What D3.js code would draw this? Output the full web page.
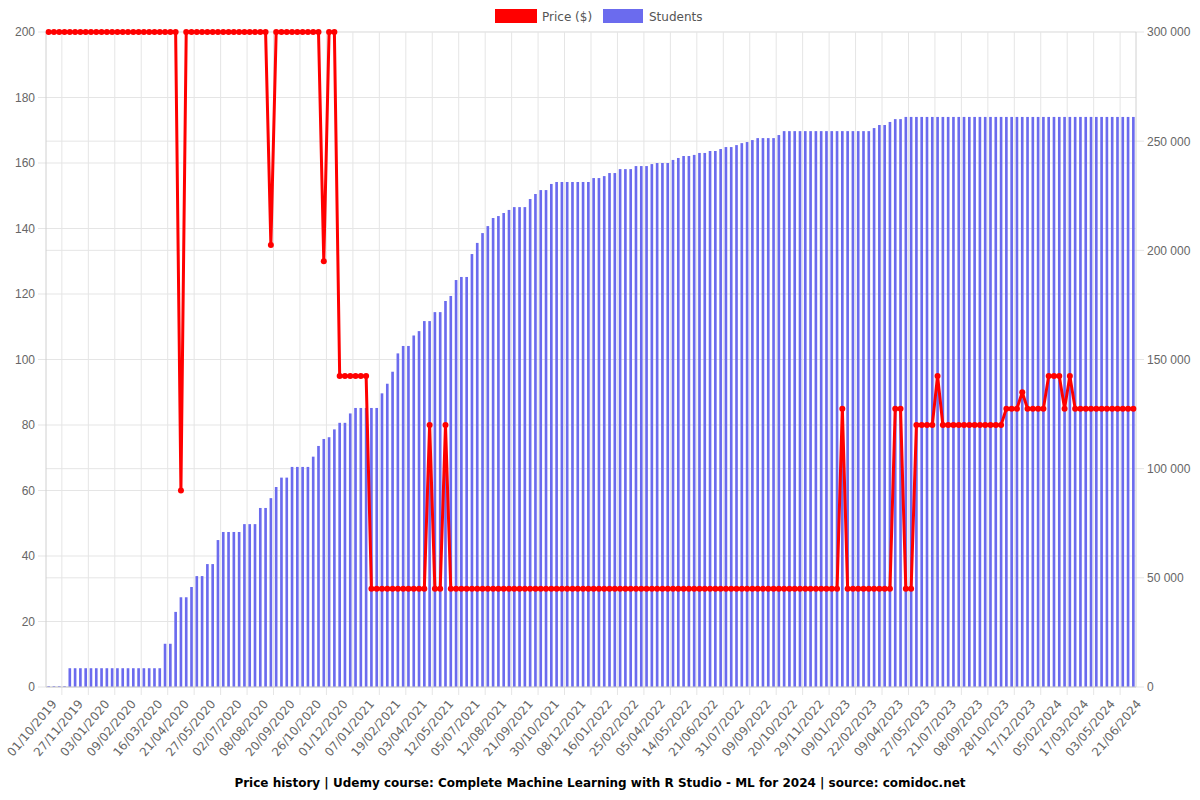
<!DOCTYPE html>
<html lang="en">
<head>
<meta charset="UTF-8">
<title>Price history</title>
<style>
  body { margin: 0; background: #fff; }
  svg { font-family: "DejaVu Sans", sans-serif; }
</style>
</head>
<body>
<div id="chart"></div>
<script src="https://d3js.org/d3.v7.min.js"></script>
<script>
// visible tick labels, one every 5 categories
const tickLabels = [
  "01/10/2019", "27/11/2019", "03/01/2020", "09/02/2020", "16/03/2020", "21/04/2020",
  "27/05/2020", "02/07/2020", "08/08/2020", "20/09/2020", "26/10/2020", "01/12/2020",
  "07/01/2021", "19/02/2021", "03/04/2021", "12/05/2021", "05/07/2021", "12/08/2021",
  "21/09/2021", "30/10/2021", "08/12/2021", "16/01/2022", "25/02/2022", "05/04/2022",
  "14/05/2022", "21/06/2022", "31/07/2022", "09/09/2022", "20/10/2022", "29/11/2022",
  "09/01/2023", "22/02/2023", "09/04/2023", "27/05/2023", "21/07/2023", "08/09/2023",
  "28/10/2023", "17/12/2023", "05/02/2024", "17/03/2024", "03/05/2024", "21/06/2024"
];
const labelEvery = 5;

const prices = [
  200, 200, 200, 200, 200, 200, 200, 200, 200, 200,
  200, 200, 200, 200, 200, 200, 200, 200, 200, 200,
  200, 200, 200, 200, 200, 60, 200, 200, 200, 200,
  200, 200, 200, 200, 200, 200, 200, 200, 200, 200,
  200, 200, 135, 200, 200, 200, 200, 200, 200, 200,
  200, 200, 130, 200, 200, 95, 95, 95, 95, 95,
  95, 30, 30, 30, 30, 30, 30, 30, 30, 30,
  30, 30, 80, 30, 30, 80, 30, 30, 30, 30,
  30, 30, 30, 30, 30, 30, 30, 30, 30, 30,
  30, 30, 30, 30, 30, 30, 30, 30, 30, 30,
  30, 30, 30, 30, 30, 30, 30, 30, 30, 30,
  30, 30, 30, 30, 30, 30, 30, 30, 30, 30,
  30, 30, 30, 30, 30, 30, 30, 30, 30, 30,
  30, 30, 30, 30, 30, 30, 30, 30, 30, 30,
  30, 30, 30, 30, 30, 30, 30, 30, 30, 30,
  85, 30, 30, 30, 30, 30, 30, 30, 30, 30,
  85, 85, 30, 30, 80, 80, 80, 80, 95, 80,
  80, 80, 80, 80, 80, 80, 80, 80, 80, 80,
  80, 85, 85, 85, 90, 85, 85, 85, 85, 95,
  95, 95, 85, 95, 85, 85, 85, 85, 85, 85,
  85, 85, 85, 85, 85, 85
];

const students = [
  400, 400, 400, 400, 8600, 8600, 8600, 8600, 8600, 8600,
  8600, 8600, 8600, 8600, 8600, 8600, 8600, 8600, 8600, 8600,
  8600, 8600, 19800, 19800, 34400, 41100, 41100, 45800, 50800, 50800,
  56300, 56300, 67300, 71000, 71000, 71000, 71000, 74600, 74600, 74600,
  82000, 82000, 86500, 91600, 95900, 95900, 100800, 100800, 100800, 100800,
  105500, 110400, 113600, 114400, 118000, 121000, 121000, 125300, 127800, 127800,
  127800, 127800, 127800, 134500, 138900, 144400, 152800, 156200, 156200, 161000,
  163000, 167600, 167600, 171700, 171700, 176800, 179100, 186400, 187800, 187800,
  198300, 203400, 207900, 211100, 214800, 215700, 217100, 218500, 219800, 219800,
  219800, 223500, 225800, 227600, 227600, 230400, 231300, 231300, 231300, 231300,
  231300, 231300, 231300, 233100, 233100, 234000, 235400, 235400, 237200, 237200,
  237200, 238600, 238600, 238600, 239500, 240000, 240000, 240000, 241400, 242300,
  243200, 243200, 243700, 244600, 244600, 245500, 245500, 246400, 247300, 247300,
  248200, 249100, 249600, 250500, 251400, 251400, 251400, 251400, 252800, 254600,
  254600, 254600, 254600, 254600, 254600, 254600, 254600, 254600, 254600, 254600,
  254600, 254600, 254600, 254600, 254600, 254600, 256000, 257400, 257400, 258800,
  260100, 260100, 261100, 261100, 261100, 261100, 261100, 261100, 261100, 261100,
  261100, 261100, 261100, 261100, 261100, 261100, 261100, 261100, 261100, 261100,
  261100, 261100, 261100, 261100, 261100, 261100, 261100, 261100, 261100, 261100,
  261100, 261100, 261100, 261100, 261100, 261100, 261100, 261100, 261100, 261100,
  261100, 261100, 261100, 261100, 261100, 261100
];

const priceTicks = [0, 20, 40, 60, 80, 100, 120, 140, 160, 180, 200];
const studentTicks = [0, 50000, 100000, 150000, 200000, 250000, 300000];

const W = 1200, H = 800;
const plotL = 46, plotR = 1136, plotT = 32, plotB = 687;
const gridColor = "#e5e5e5";
const textColor = "#666";
const blue = "#6b6bee";
const red = "#ff0000";

const svg = d3.select("#chart").append("svg")
  .attr("width", W)
  .attr("height", H);

const idx = d3.range(prices.length);
const x = d3.scaleBand().domain(idx).range([plotL, plotR]);
const step = x.step();
const cx = i => x(i) + step / 2;

const yPrice = d3.scaleLinear().domain([0, 200]).range([plotB, plotT]);
const yStud = d3.scaleLinear().domain([0, 300000]).range([plotB, plotT]);

// horizontal grid, both axes
const grid = svg.append("g");
priceTicks.forEach(t => {
  grid.append("line")
    .attr("x1", plotL - 8).attr("x2", plotR)
    .attr("y1", yPrice(t)).attr("y2", yPrice(t))
    .attr("stroke", gridColor);
});
studentTicks.forEach(t => {
  grid.append("line")
    .attr("x1", plotL).attr("x2", plotR + 8)
    .attr("y1", yStud(t)).attr("y2", yStud(t))
    .attr("stroke", gridColor);
});

// vertical grid sits between the labelled categories
const tickIdx = tickLabels.map((d, k) => k * labelEvery);
tickIdx.forEach((i, k) => {
  if (k === 0) return;
  const gx = cx(i) - labelEvery * step / 2;
  grid.append("line")
    .attr("x1", gx).attr("x2", gx)
    .attr("y1", plotT).attr("y2", plotB + 8)
    .attr("stroke", gridColor);
});

// bars
svg.append("g").selectAll("rect")
  .data(students)
  .join("rect")
  .attr("x", (d, i) => x(i) + step * 0.25)
  .attr("width", step * 0.5)
  .attr("y", d => yStud(d))
  .attr("height", d => plotB - yStud(d))
  .attr("fill", blue);

// axis border lines
svg.append("line").attr("x1", plotL).attr("x2", plotL).attr("y1", plotT).attr("y2", plotB).attr("stroke", "#d0d0d0");
svg.append("line").attr("x1", plotR).attr("x2", plotR).attr("y1", plotT).attr("y2", plotB).attr("stroke", "#d0d0d0");
svg.append("line").attr("x1", plotL).attr("x2", plotR).attr("y1", plotB).attr("y2", plotB).attr("stroke", "#d0d0d0");

// price line + points
const line = d3.line()
  .x((d, i) => cx(i))
  .y(d => yPrice(d));

svg.append("path")
  .datum(prices)
  .attr("d", line)
  .attr("fill", "none")
  .attr("stroke", red)
  .attr("stroke-width", 3)
  .attr("stroke-linejoin", "round");

svg.append("g").selectAll("circle")
  .data(prices)
  .join("circle")
  .attr("cx", (d, i) => cx(i))
  .attr("cy", d => yPrice(d))
  .attr("r", 3)
  .attr("fill", red);

// left axis
const yAxisL = svg.append("g")
  .attr("transform", `translate(${plotL},0)`)
  .call(d3.axisLeft(yPrice).tickValues(priceTicks).tickSize(0).tickPadding(11));
yAxisL.select(".domain").remove();
yAxisL.selectAll("text").attr("fill", textColor).style("font-size", "12px");

// right axis
const fmt = d3.formatLocale({ decimal: ".", thousands: " ", grouping: [3], currency: ["", ""] }).format(",");
const yAxisR = svg.append("g")
  .attr("transform", `translate(${plotR},0)`)
  .call(d3.axisRight(yStud).tickValues(studentTicks).tickSize(0).tickPadding(11).tickFormat(fmt));
yAxisR.select(".domain").remove();
yAxisR.selectAll("text").attr("fill", textColor).style("font-size", "12px");

// x labels, rotated
svg.append("g").selectAll("text")
  .data(tickLabels)
  .join("text")
  .attr("transform", (d, k) => `translate(${cx(tickIdx[k]) + 6},${plotB + 15}) rotate(-50)`)
  .attr("text-anchor", "end")
  .attr("dominant-baseline", "middle")
  .attr("fill", textColor)
  .style("font-size", "12px")
  .text(d => d);

// legend
const legend = svg.append("g");
legend.append("rect").attr("x", 495).attr("y", 9).attr("width", 42).attr("height", 14).attr("fill", red);
legend.append("text").attr("x", 542).attr("y", 20.5).attr("fill", "#555").style("font-size", "12px").text("Price ($)");
legend.append("rect").attr("x", 603).attr("y", 9).attr("width", 40).attr("height", 14).attr("fill", blue);
legend.append("text").attr("x", 649).attr("y", 20.5).attr("fill", "#555").style("font-size", "12px").text("Students");

// title
svg.append("text")
  .attr("x", 600)
  .attr("y", 787)
  .attr("text-anchor", "middle")
  .attr("fill", "#000")
  .style("font-size", "12px")
  .style("font-weight", "bold")
  .text("Price history | Udemy course: Complete Machine Learning with R Studio - ML for 2024 | source: comidoc.net");
</script>
</body>
</html>
